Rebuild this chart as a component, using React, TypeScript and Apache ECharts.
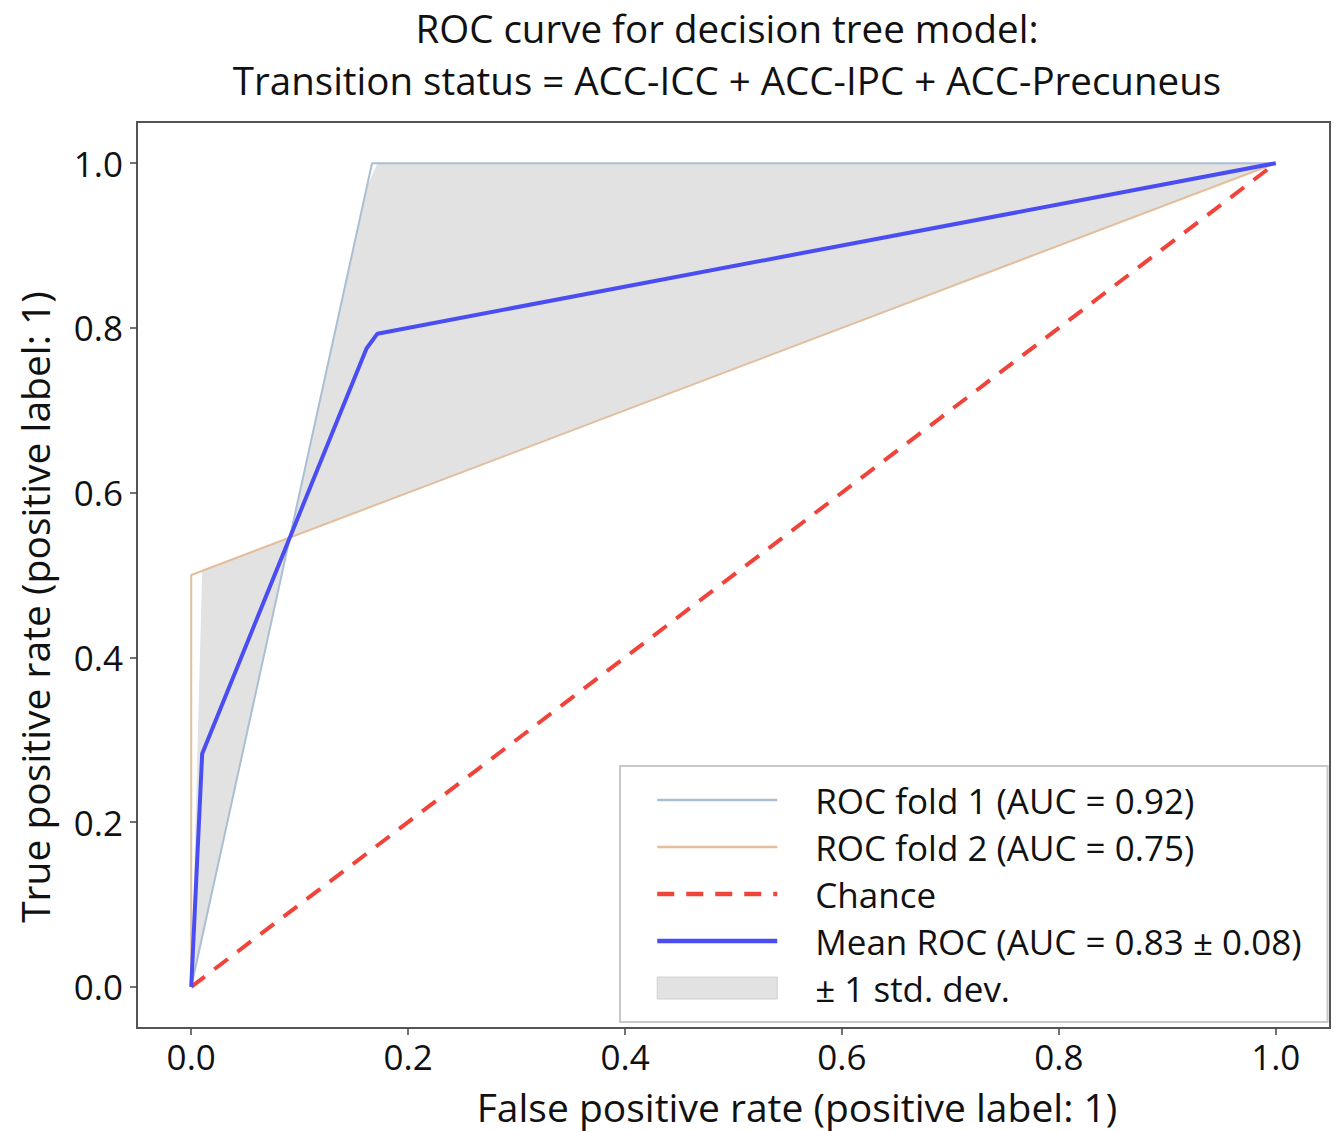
import React, { useEffect, useRef } from "react";
import * as echarts from "echarts";

// ---- data ----
const fold1Fpr = [0, 0.1667, 1];
const fold1Tpr = [0, 1, 1];
const fold2Fpr = [0, 0, 1];
const fold2Tpr = [0, 0.5, 1];
const chanceFpr = [0, 1];
const chanceTpr = [0, 1];
const meanFpr = [0, 0.0101, 0.1616, 0.1717, 1];
const meanTpr = [0, 0.283, 0.775, 0.793, 1];
const bandFpr = [0, 0.0101, 0.0909, 0.1616, 0.1717, 1];
const bandUpper = [0, 0.505, 0.545, 0.97, 1, 1];
const bandLower = [0, 0.061, 0.545, 0.581, 0.586, 1];
const tickValues = [0, 0.2, 0.4, 0.6, 0.8, 1.0];

const seriesNames = [
  "ROC fold 1 (AUC = 0.92)",
  "ROC fold 2 (AUC = 0.75)",
  "Chance",
  "Mean ROC (AUC = 0.83 ± 0.08)",
  "± 1 std. dev.",
];
const titleLines = [
  "ROC curve for decision tree model:",
  "Transition status = ACC-ICC + ACC-IPC + ACC-Precuneus",
];
const xTitle = "False positive rate (positive label: 1)";
const yTitle = "True positive rate (positive label: 1)";

const zip = (a: number[], b: number[]) => a.map((v, i) => [v, b[i]]);

const FONT = "Open Sans";

export default function App() {
  const ref = useRef<HTMLDivElement>(null);
  useEffect(() => {
    const chart = echarts.init(ref.current!, null, { renderer: "svg" });
    const grid = { left: 137, top: 122, width: 1193, height: 906 };
    const axisCommon = {
      type: "value",
      min: -0.05,
      max: 1.05,
      splitLine: { show: false },
      axisLine: { show: false, onZero: false },
      axisTick: {
        show: true,
        customValues: tickValues,
        length: 7,
        lineStyle: { color: "#444", width: 1.5 },
      },
      axisLabel: {
        customValues: tickValues,
        formatter: (v: number) => v.toFixed(1),
        fontSize: 35,
        fontFamily: FONT,
        color: "#111",
      },
    };
    const lineSeries = (name: string, x: number[], y: number[], color: string, width: number, z: number, type: any = "solid") => ({
      name,
      type: "line",
      z,
      data: zip(x, y),
      showSymbol: false,
      symbol: "circle",
      lineStyle: { color, width, type },
      itemStyle: { color },
    });
    const hiddenSym = { opacity: 0 };
    const textStyle = (text: string, size: number) => ({
      text,
      align: "center",
      verticalAlign: "middle",
      fontSize: size,
      fontFamily: FONT,
      fill: "#111",
    });
    chart.setOption({
      animation: false,
      backgroundColor: "#fff",
      grid: { ...grid, show: true, borderColor: "#555", borderWidth: 2, backgroundColor: "transparent" },
      graphic: [
        { type: "text", x: 727, y: 28, style: textStyle(titleLines[0], 38.5) },
        { type: "text", x: 727, y: 80, style: textStyle(titleLines[1], 38.5) },
        { type: "text", x: 797, y: 1106, style: textStyle(xTitle, 39) },
        { type: "text", x: 34, y: 607, rotation: Math.PI / 2, style: textStyle(yTitle, 39) },
      ],
      xAxis: {
        ...axisCommon,
        axisLabel: { ...axisCommon.axisLabel, margin: 11 },
      },
      yAxis: {
        ...axisCommon,
        axisLabel: { ...axisCommon.axisLabel, margin: 14 },
      },
      legend: {
        orient: "vertical",
        left: 620,
        top: 766,
        padding: [16, 26, 16, 35],
        backgroundColor: "#fff",
        borderColor: "#c8c8c8",
        borderWidth: 2,
        itemWidth: 120,
        itemHeight: 22,
        itemGap: 11,
        textStyle: {
          fontSize: 35,
          fontFamily: FONT,
          color: "#111",
          padding: [0, 0, 0, 33],
          lineHeight: 36,
        },
        data: [
          { name: seriesNames[0], itemStyle: hiddenSym, lineStyle: { width: 2.5 } },
          { name: seriesNames[1], itemStyle: hiddenSym, lineStyle: { width: 2.5 } },
          { name: seriesNames[2], itemStyle: hiddenSym, lineStyle: { width: 4.5 } },
          { name: seriesNames[3], itemStyle: hiddenSym, lineStyle: { width: 4.5 } },
          { name: seriesNames[4], icon: "rect", itemStyle: { color: "#e2e2e2", borderColor: "#d0d0d0", borderWidth: 1 } },
        ],
      },
      series: [
        {
          name: seriesNames[4],
          type: "custom",
          z: 1,
          itemStyle: { color: "#e2e2e2" },
          data: bandFpr.map((x, i) => [x, bandUpper[i], bandLower[i]]),
          encode: { x: 0, y: [1, 2] },
          renderItem: (params: any, api: any) => {
            if (params.dataIndex !== 0) return null;
            const pts: number[][] = [];
            for (let i = 0; i < bandFpr.length; i++) pts.push(api.coord([bandFpr[i], bandUpper[i]]));
            for (let i = bandFpr.length - 1; i >= 0; i--) pts.push(api.coord([bandFpr[i], bandLower[i]]));
            return {
              type: "polygon",
              shape: { points: pts },
              style: { fill: "#e2e2e2", stroke: "none" },
            };
          },
        },
        lineSeries(seriesNames[0], fold1Fpr, fold1Tpr, "#aabfd3", 2, 2),
        lineSeries(seriesNames[1], fold2Fpr, fold2Tpr, "#e3bd9c", 2, 2),
        lineSeries(seriesNames[2], chanceFpr, chanceTpr, "#f0433a", 4, 3, [17, 12]),
        lineSeries(seriesNames[3], meanFpr, meanTpr, "#4a4ef2", 4, 4),
      ],
    });
    return () => chart.dispose();
  }, []);
  return (
    <div
      ref={ref}
      style={{ position: "absolute", left: 0, top: 0, width: 1342, height: 1131 }}
    />
  );
}
